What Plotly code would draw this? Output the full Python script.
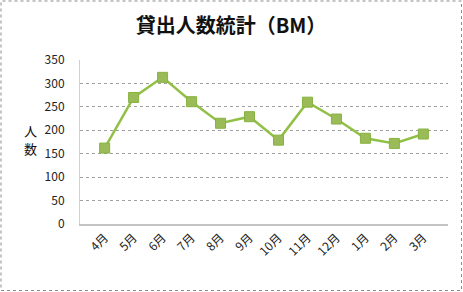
import plotly.graph_objects as go

months = ["4月", "5月", "6月", "7月", "8月", "9月", "10月", "11月", "12月", "1月", "2月", "3月"]
counts = [162, 270, 313, 261, 215, 229, 179, 260, 224, 183, 172, 192]
y_ticks = [0, 50, 100, 150, 200, 250, 300, 350]
title_text = "<b>貸出人数統計（BM）</b>"
y_title_chars = ["人", "数"]

FONT = "Noto Sans CJK JP, sans-serif"
W, H = 463, 292
ML, MR, MT, MB = 80, 15, 60, 68
PW = W - ML - MR
PH = H - MT - MB

def px_x(p):
    return (p - ML) / PW

def px_y(p):
    return (H - MB - p) / PH

fig = go.Figure()
fig.add_trace(go.Scatter(
    x=months, y=counts, mode="lines+markers",
    line=dict(color="#92C047", width=2.5),
    marker=dict(symbol="square", size=10, color="#9BBB59",
                line=dict(color="#86B33E", width=1)),
    showlegend=False,
))

annotations = []
for i, ch in enumerate(y_title_chars):
    annotations.append(dict(
        text=ch, xref="paper", yref="paper",
        x=px_x(30), y=px_y(130 + 18 * i), showarrow=False,
        xanchor="center", yanchor="middle",
        font=dict(family=FONT, size=13, color="#111111"),
    ))

fig.update_layout(
    width=W, height=H,
    margin=dict(l=ML, r=MR, t=MT, b=MB),
    paper_bgcolor="white", plot_bgcolor="white",
    font=dict(family=FONT, size=12, color="#222222"),
    title=dict(text=title_text, x=231 / W, xref="container", xanchor="center",
               y=1 - 26 / H, yref="container", yanchor="middle",
               font=dict(family=FONT, size=20, color="#111111")),
    xaxis=dict(
        type="category", tickangle=-45, showgrid=False,
        showline=True, linecolor="#C4C4C4", linewidth=2,
        ticks="", tickfont=dict(size=12, family=FONT),
    ),
    yaxis=dict(
        range=[0, 350], tickvals=y_ticks, showgrid=True,
        gridcolor="#A0A0A0", griddash="dot", gridwidth=1,
        showline=True, linecolor="#D0D0D0", linewidth=1,
        zeroline=False, ticks="", ticklabelstandoff=12,
        tickfont=dict(size=12, family=FONT),
    ),
    annotations=annotations,
    shapes=[dict(
        type="rect", xref="paper", yref="paper",
        x0=px_x(1), x1=px_x(461.5), y0=px_y(290.5), y1=px_y(1),
        line=dict(color="#8A8A8A", width=1, dash="dot"),
    )],
)

fig.write_html("out.html")
